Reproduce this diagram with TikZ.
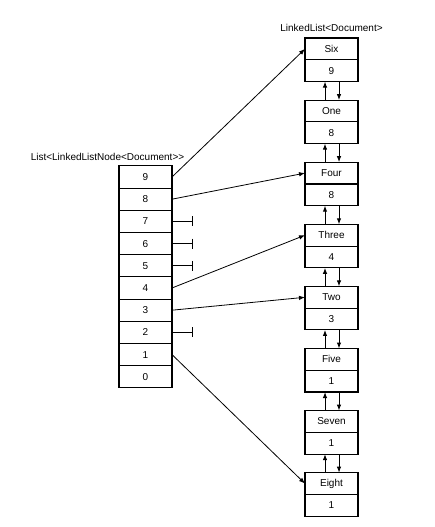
\documentclass[tikz,border=0pt]{standalone}
\usepackage{fontspec}
\setsansfont{Liberation Sans}
\usetikzlibrary{arrows.meta,positioning}
\tikzset{
  slot/.style={draw,line width=1.1pt,minimum width=53pt,minimum height=22.2pt,inner sep=0pt,outer sep=0pt},
  entry/.style={draw,line width=1.1pt,minimum width=53pt,minimum height=21.75pt,inner sep=0pt,outer sep=0pt},
  ptr/.style={-{Latex[length=6pt,width=4.5pt]},line width=0.8pt},
  nil/.style={-{Bar[width=10pt]},line width=0.8pt},
  link/.style={-{Latex[length=6pt,width=4.5pt]},line width=1pt},
  every node/.style={font=\sffamily\normalsize}
}
\begin{document}
\begin{tikzpicture}[x=1pt,y=1pt]
\useasboundingbox (0,0) rectangle (434,527);

% array of list heads
\node[slot] (l9) at (145.5,350) {9};
\foreach \i in {8,7,...,0} {
  \pgfmathtruncatemacro\j{\i+1}
  \node[slot,below=0pt of l\j] (l\i) {\i};
}
\node[above=2pt of l9,xshift=-38pt] (arrtitle) {List<LinkedListNode<Document>{}>};

% linked list entries
\foreach \name/\cnt [count=\k] in {Six/9,One/8,Four/8,Three/4,Two/3,Five/1,Seven/1,Eight/1} {
  \node[entry] (n\k) at (331.5,{478.1-62.1*(\k-1)}) {\name};
  \node[entry,below=0pt of n\k] (c\k) {\cnt};
}
\node[above=3pt of n1] (lltitle) {LinkedList<Document>};

% prev / next links
\foreach \k in {1,...,7} {
  \pgfmathtruncatemacro\m{\k+1}
  \draw[link] ([xshift=-6.5pt]n\m.north) -- ([xshift=-6.5pt]c\k.south);
  \draw[link] ([xshift=7.5pt]c\k.south) -- ([xshift=7.5pt]n\m.north);
}

% pointers from the array
\draw[ptr] (l9.east) -- (n1.west);
\draw[ptr] (l8.east) -- (n3.west);
\draw[ptr] (l4.east) -- (n4.west);
\draw[ptr] (l3.east) -- (n5.west);
\draw[ptr] (l1.east) -- (n8.west);
\foreach \i in {7,6,5,2}
  \draw[nil] (l\i.east) -- ++(21pt,0);
\end{tikzpicture}
\end{document}
